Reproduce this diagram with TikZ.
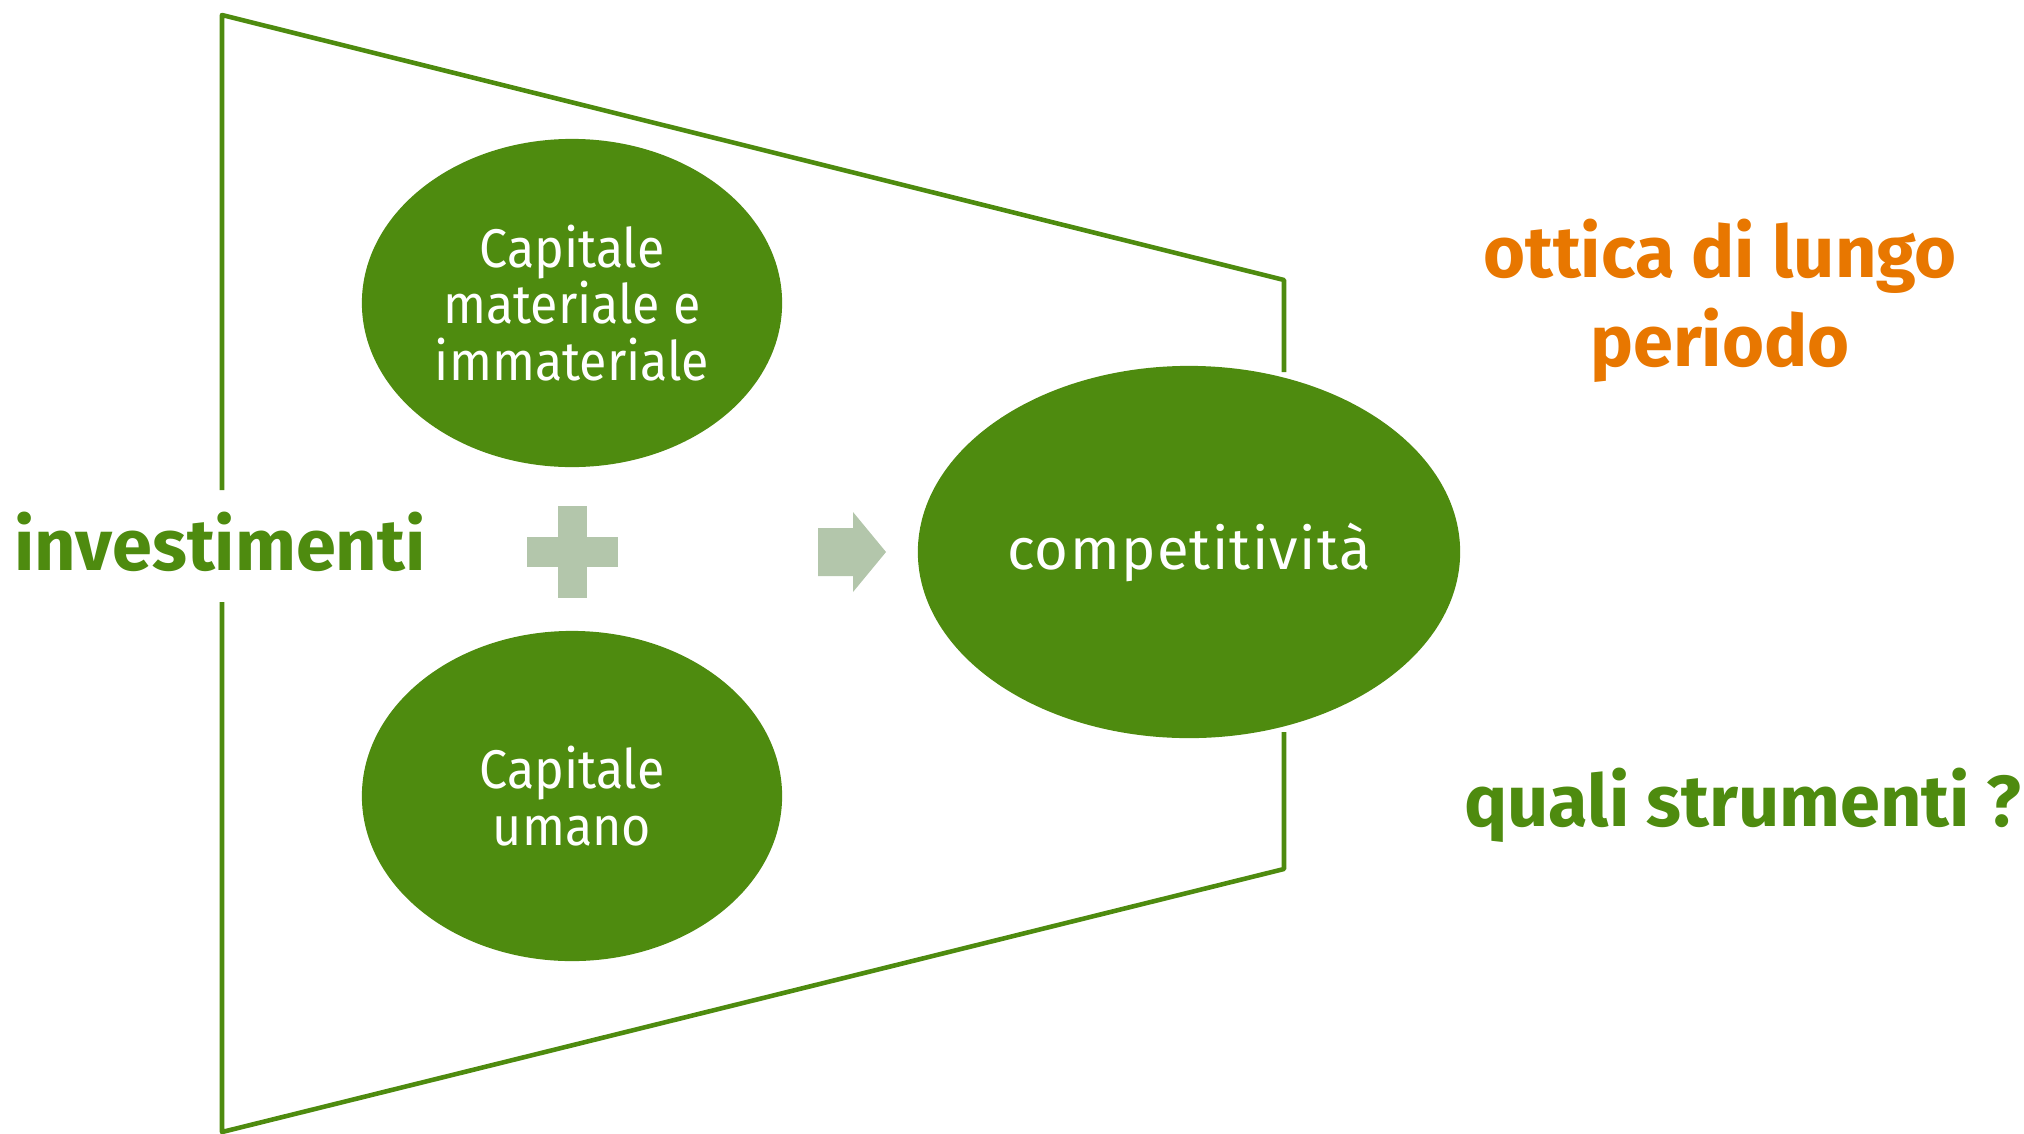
\documentclass[tikz,border=0pt]{standalone}
\usepackage{fontspec}
\setmainfont{Fira Sans}
\newfontfamily\ellfont[FakeStretch=0.92]{Fira Sans}
\newfontfamily\compfont[LetterSpace=2.3]{Fira Sans}
\usetikzlibrary{shapes.geometric}
\definecolor{verde}{RGB}{78,139,15}
\definecolor{arancio}{RGB}{232,119,0}
\definecolor{salvia}{RGB}{179,198,171}

\begin{document}
\begin{tikzpicture}[x=0.01cm, y=-0.01cm]
\tikzset{capitale/.style={ellipse, fill=verde, text=white, align=center, inner sep=0pt, font=\ellfont\fontsize{15.5}{16.1}\selectfont},
  etichetta/.style={font=\bfseries\fontsize{20.5}{25.3}\selectfont, align=center, inner sep=0pt},
  bordo/.style={draw=verde, line width=1.3pt, line join=round}}
\useasboundingbox (0,0) rectangle (2024,1133);
% imbuto
\coordinate (A1) at (222,490);
\coordinate (A2) at (222,15);
\coordinate (A3) at (1284,280);
\coordinate (A4) at (1284,372);
\coordinate (B1) at (1284,732);
\coordinate (B2) at (1284,869);
\coordinate (B3) at (222,1132);
\coordinate (B4) at (222,602);
\draw[bordo] (A1) -- (A2) -- (A3) -- (A4);
\draw[bordo] (B1) -- (B2) -- (B3) -- (B4);
% ellissi
\node[capitale, minimum width=4.2cm, minimum height=3.28cm] (K1) at (572,303) {Capitale\\materiale e\\immateriale};
\node[capitale, minimum width=4.2cm, minimum height=3.3cm] (K2) at (572,796) {Capitale\\umano};
\node[capitale, minimum width=5.42cm, minimum height=3.72cm, font=\compfont\fontsize{16.5}{17}\selectfont] (C) at (1189,552) {competitività};
% piu e freccia
\fill[salvia] (558,506) rectangle (587,598);
\fill[salvia] (527,537) rectangle (618,567);
\fill[salvia] (818,528) -- (853,528) -- (853,512) -- (886,552) -- (853,592) -- (853,576) -- (818,576) -- cycle;
% etichette
\node[etichetta, text=verde, anchor=base] (inv) at (220,570) {investimenti};
\node[etichetta, text=arancio, anchor=base] (ott) at (1720,366) {ottica di lungo\\periodo};
\node[etichetta, text=verde, anchor=base] (qs) at (1743,826) {quali strumenti ?};
\end{tikzpicture}
\end{document}
